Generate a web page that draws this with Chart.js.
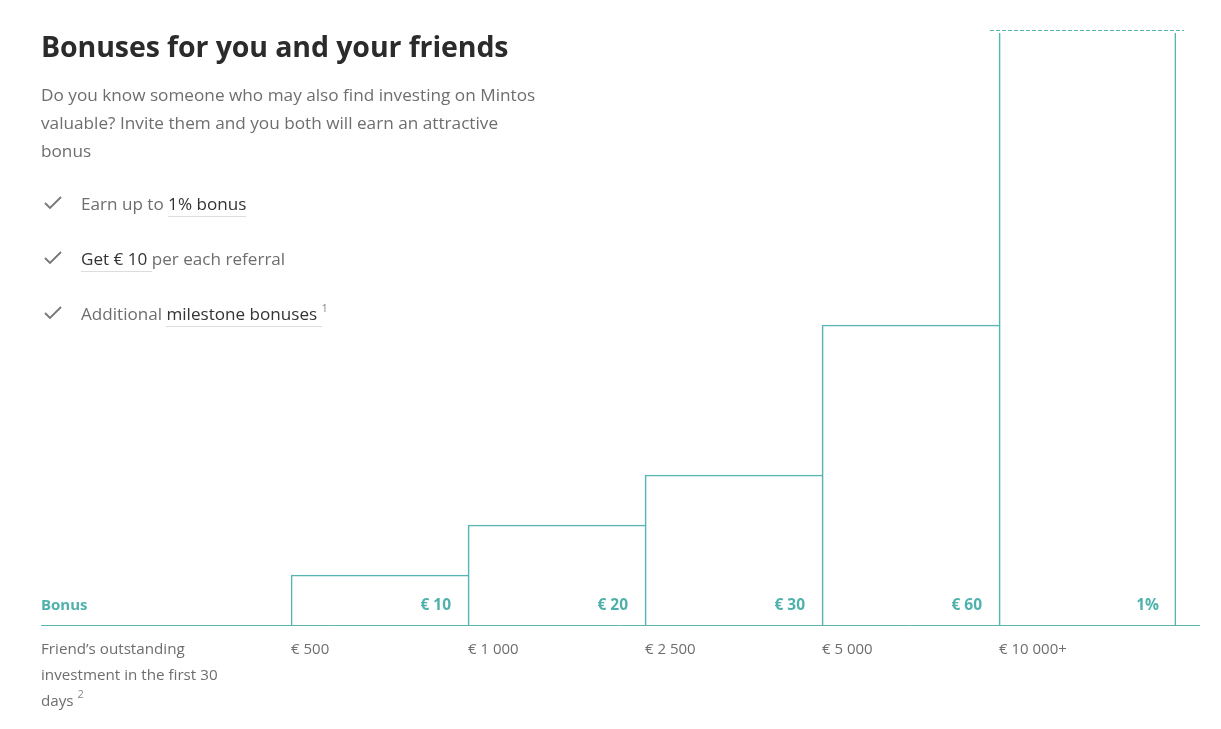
<!DOCTYPE html>
<html>
<head>
<meta charset="utf-8">
<script src="https://cdn.jsdelivr.net/npm/chart.js@4.4.1/dist/chart.umd.min.js"></script>
<style>
  html, body { margin: 0; padding: 0; background: #fff; }
  body { width: 1221px; height: 729px; position: relative; overflow: hidden; font-family: "Open Sans", sans-serif; color: #666; }
  #chart { position: absolute; left: 0; top: 0; }
  .abs { position: absolute; }
  h1 { position: absolute; left: 41px; top: 26px; margin: 0; font-size: 28.5px; font-weight: 700; color: #2b2b2b; line-height: 40px; letter-spacing: -0.1px; }
  .intro { left: 41px; top: 81px; font-size: 17.2px; line-height: 28px; color: #6e6e6e; }
  .item { left: 41px; font-size: 17.1px; line-height: 24px; color: #6e6e6e; }
  .item svg { position: absolute; left: 2px; top: 3px; }
  .item span.t { position: absolute; left: 40px; white-space: nowrap; }
  .hl { color: #333; border-bottom: 1px solid #ddd; padding-bottom: 1px; }
  sup { font-size: 11px; color: #888; vertical-align: top; position: relative; top: -6px; }
  .bonus { left: 41px; top: 594px; font-size: 15px; font-weight: 700; color: #4fb1ac; line-height: 20px; }
  .friend { left: 41px; top: 635px; font-size: 15.2px; line-height: 26px; color: #6e6e6e; width: 205px; }
</style>
</head>
<body>
<canvas id="chart" width="1221" height="729"></canvas>

<h1>Bonuses for you and your friends</h1>
<div class="abs intro">Do you know someone who may also find investing on Mintos<br>valuable? Invite them and you both will earn an attractive<br>bonus</div>

<div class="abs item" style="top:192px">
  <svg width="20" height="16"><polyline points="2,8 7,13 18,2" fill="none" stroke="#777" stroke-width="1.8"/></svg>
  <span class="t">Earn up to <span class="hl">1% bonus</span></span>
</div>
<div class="abs item" style="top:247px">
  <svg width="20" height="16"><polyline points="2,8 7,13 18,2" fill="none" stroke="#777" stroke-width="1.8"/></svg>
  <span class="t"><span class="hl">Get € 10 </span>per each referral</span>
</div>
<div class="abs item" style="top:302px">
  <svg width="20" height="16"><polyline points="2,8 7,13 18,2" fill="none" stroke="#777" stroke-width="1.8"/></svg>
  <span class="t">Additional <span class="hl">milestone bonuses </span><sup>1</sup></span>
</div>

<div class="abs bonus">Bonus</div>
<div class="abs friend">Friend’s outstanding investment in the first 30 days <sup>2</sup></div>

<script>
// friend's investment thresholds (x axis)
const investLabels = ['€ 500', '€ 1 000', '€ 2 500', '€ 5 000', '€ 10 000+'];
// bonus shown inside each step
const bonusLabels = ['€ 10', '€ 20', '€ 30', '€ 60', '1%'];
// step heights in euro (last one is open ended)
const bonusValues = [10, 20, 30, 60, 118.4];
const yMax = 119;

const teal = '#58b5b1';

// baseline, dashed cap on the open step and the bonus labels
const stepDecor = {
    id: 'stepDecor',
    afterDatasetsDraw(chart) {
        const ctx = chart.ctx;
        const y0 = chart.scales.y.getPixelForValue(0);
        const yTop = chart.scales.y.getPixelForValue(yMax);
        const bars = chart.getDatasetMeta(0).data;

        ctx.save();
        ctx.strokeStyle = teal;
        ctx.lineWidth = 1;
        ctx.beginPath();
        ctx.moveTo(41, Math.round(y0) + 0.5);
        ctx.lineTo(1200, Math.round(y0) + 0.5);
        ctx.stroke();

        const last = bars[bars.length - 1];
        ctx.setLineDash([4, 2]);
        ctx.beginPath();
        ctx.moveTo(last.x - last.width / 2 - 9, Math.round(yTop) + 0.5);
        ctx.lineTo(last.x + last.width / 2 + 8, Math.round(yTop) + 0.5);
        ctx.stroke();
        ctx.setLineDash([]);

        ctx.fillStyle = '#4fb1ac';
        ctx.font = 'bold 15.5px "Open Sans"';
        ctx.textAlign = 'right';
        ctx.textBaseline = 'middle';
        bars.forEach((bar, i) => {
            ctx.fillText(bonusLabels[i], bar.x + bar.width / 2 - 17, y0 - 19);
        });
        ctx.restore();
    }
};

new Chart(document.getElementById('chart'), {
    type: 'bar',
    data: {
        labels: investLabels,
        datasets: [{
            data: bonusValues,
            backgroundColor: 'rgba(0,0,0,0)',
            borderColor: teal,
            borderSkipped: false,
            borderWidth: (c) => c.dataIndex === bonusValues.length - 1
                ? { left: 1, right: 1, top: 0, bottom: 0 }
                : { left: 1, right: 0, top: 1, bottom: 0 },
            barPercentage: 1,
            categoryPercentage: 1
        }]
    },
    options: {
        responsive: false,
        animation: false,
        devicePixelRatio: 1,
        layout: { padding: { left: 291, right: 45, top: 30, bottom: 0 } },
        plugins: { legend: { display: false }, tooltip: { enabled: false } },
        scales: {
            y: { display: false, min: 0, max: yMax },
            x: {
                grid: { display: false, drawTicks: false },
                border: { display: false },
                ticks: {
                    align: 'start',
                    labelOffset: -88.5,
                    padding: 16,
                    color: '#6e6e6e',
                    font: { family: 'Open Sans', size: 15 }
                },
                afterFit: (scale) => { scale.height = 104; }
            }
        }
    },
    plugins: [stepDecor]
});
</script>
</body>
</html>
